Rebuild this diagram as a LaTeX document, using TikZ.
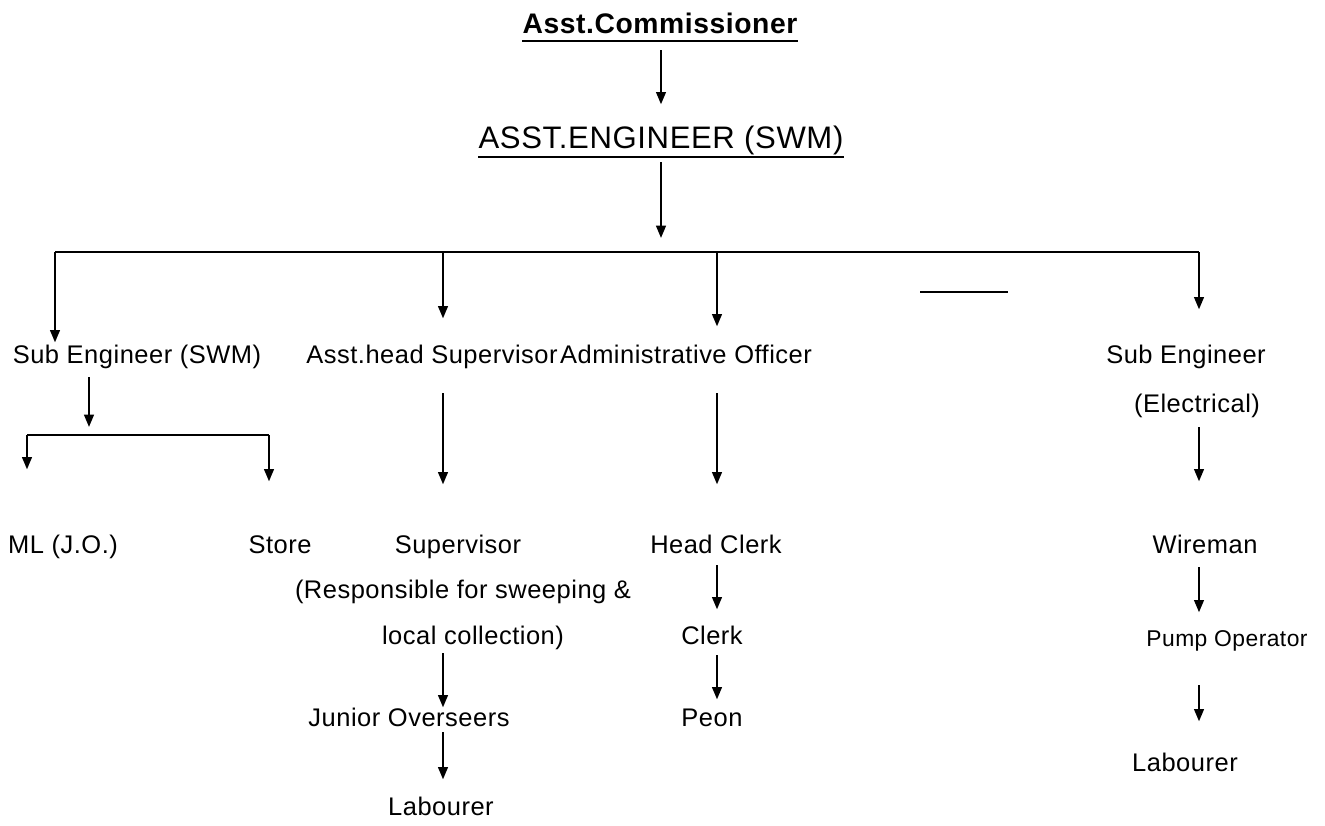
\documentclass[tikz,border=0pt]{standalone}
\usepackage{fontspec}
\setmainfont{Liberation Sans}[LetterSpace=2.0]
\usetikzlibrary{arrows.meta,calc}

\begin{document}
\begin{tikzpicture}[x=0.02cm, y=-0.02cm,
    lbl/.style={inner sep=0pt, anchor=base, text height=10.4pt, text depth=0pt, font=\fontsize{14.5}{17}\selectfont},
    arr/.style={-{Triangle[length=7pt,width=5.5pt]}, line width=1.2pt},
    ln/.style={line width=1.2pt}]
\useasboundingbox (0,0) rectangle (1325,825);

\node[lbl, font=\fontsize{16.1}{19}\selectfont\bfseries, text height=11.5pt] (AC) at (660,33) {Asst.Commissioner};
\node[lbl, font=\fontsize{17.7}{21}\selectfont, text height=12.7pt] (AE) at (661,148) {ASST.ENGINEER (SWM)};

\node[lbl] (SE) at (137,363) {Sub Engineer (SWM)};
\node[lbl] (AH) at (432,363) {Asst.head Supervisor};
\node[lbl] (AO) at (686,363) {Administrative Officer};
\node[lbl] (EE) at (1186,363) {Sub Engineer};
\node[lbl] (EL) at (1197,412) {(Electrical)};

\node[lbl] (ML) at (63,553) {ML (J.O.)};
\node[lbl] (ST) at (280,553) {Store};
\node[lbl] (SU) at (458,553) {Supervisor};
\node[lbl] (RS) at (463,598) {(Responsible for sweeping \&};
\node[lbl] (LC) at (473,644) {local collection)};
\node[lbl] (JO) at (409,726) {Junior Overseers};
\node[lbl] (L1) at (441,815) {Labourer};

\node[lbl] (HC) at (716,553) {Head Clerk};
\node[lbl] (CL) at (712,644) {Clerk};
\node[lbl] (PE) at (712,726) {Peon};

\node[lbl] (WI) at (1205,553) {Wireman};
\node[lbl, font=\fontsize{13}{15}\selectfont, text height=9.3pt] (PO) at (1227,646) {Pump Operator};
\node[lbl] (L2) at (1185,771) {Labourer};

\coordinate (barL) at (55,252);
\coordinate (barR) at (1199,252);
\coordinate (brL) at (27,435);
\coordinate (brR) at (269,435);

\draw[ln] ($(AC.south west)+(0,8)$) -- ($(AC.south east)+(0,8)$);
\draw[ln] ($(AE.south west)+(0,9)$) -- ($(AE.south east)+(0,9)$);

\draw[arr] ($(AC.south)+(1,17)$) -- ($(AC.south |- AE.north)+(1,-21)$);
\draw[arr] ($(AE.south)+(0,14)$) -- ($(AE.south |- barL)+(0,-14)$);

\draw[ln] (barL) -- (barR);
\draw[ln] (920,292) -- (1008,292);

\draw[arr] (barL) -- ($(barL |- SE.north)+(0,-2)$);
\draw[arr] ($(barL -| AH)+(11,0)$) -- ($(AH.north)+(11,-26)$);
\draw[arr] ($(barL -| AO)+(31,0)$) -- ($(AO.north)+(31,-18)$);
\draw[arr] (barR) -- ($(barR |- EE.north)+(0,-35)$);

\draw[arr] ($(SE.south)+(-48,14)$) -- ($(SE.south |- brL)+(-48,-8)$);
\draw[ln] (brL) -- (brR);
\draw[arr] (brL) -- ($(brL |- ML.north)+(0,-65)$);
\draw[arr] (brR) -- ($(brR |- ST.north)+(0,-53)$);

\draw[arr] ($(AH.south)+(11,30)$) -- ($(AH.south |- SU.north)+(11,-50)$);
\draw[arr] ($(AO.south)+(31,30)$) -- ($(AO.south |- HC.north)+(31,-50)$);
\draw[arr] ($(EL.south)+(2,15)$) -- ($(EL.south |- WI.north)+(2,-53)$);

\draw[arr] ($(LC.south)+(-30,9)$) -- ($(LC.south |- JO.north)+(-30,0)$);
\draw[arr] ($(JO.south)+(34,6)$) -- ($(JO.south |- L1.north)+(34,-17)$);

\draw[arr] ($(HC.south)+(1,12)$) -- ($(HC.south |- CL.north)+(1,-16)$);
\draw[arr] ($(CL.south)+(5,11)$) -- ($(CL.south |- PE.north)+(5,-8)$);

\draw[arr] ($(WI.south)+(-6,14)$) -- ($(WI.south |- PO.north)+(-6,-17)$);
\draw[arr] ($(PO.south)+(-28,39)$) -- ($(PO.south |- L2.north)+(-28,-31)$);
\end{tikzpicture}
\end{document}
